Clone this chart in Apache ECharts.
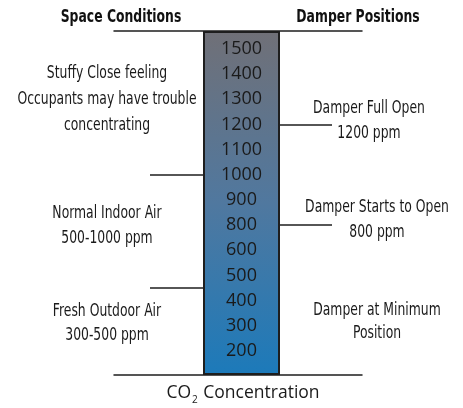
<!DOCTYPE html>
<html><head><meta charset="utf-8">
<script src="https://cdn.jsdelivr.net/npm/echarts@6/dist/echarts.min.js"></script>
<style>html,body{margin:0;padding:0;background:#fff}#c{width:463px;height:408px}</style>
</head><body><div id="c"></div>
<script>
// ---- data ----
const tickLabels = ['200','300','400','500','600','800','900','1000','1100','1200','1300','1400','1500'];
// positions on the scale, in tick-label index units
const spaceBoundaries = [tickLabels.indexOf('1000'), (tickLabels.indexOf('400') + tickLabels.indexOf('500')) / 2];
const damperMarks = [tickLabels.indexOf('1200'), tickLabels.indexOf('800')];
const spaceTitle = 'Space Conditions';
const damperTitle = 'Damper Positions';
const spaceNotes = [
  ['Stuffy Close feeling', 'Occupants may have trouble', 'concentrating'],
  ['Normal Indoor Air', '500-1000 ppm'],
  ['Fresh Outdoor Air', '300-500 ppm']
];
const damperNotes = [
  ['Damper Full Open', '1200 ppm'],
  ['Damper Starts to Open', '800 ppm'],
  ['Damper at Minimum', 'Position']
];
const axisName = ['CO', '2', ' Concentration'];

// ---- chart ----
const FN = "'DejaVu Sans Condensed','Liberation Sans Narrow',sans-serif";
const FR = "'Open Sans','Noto Sans',sans-serif";
const chart = echarts.init(document.getElementById('c'), null, {renderer: 'canvas'});
const hidden = {show: false};
const lineCol = '#1e1e1e';
const SX = 0.81;
function noteText(lines, x, y, lh) {
  return {type: 'text', x: x, y: y, z: 10, scaleX: SX,
    style: {text: lines.join('\n'), fill: '#1a1a1a', font: '17px ' + FN,
      align: 'center', verticalAlign: 'middle', lineHeight: lh}};
}
const option = {
  animation: false,
  grid: [
    {left: 114, width: 248, top: 31, height: 344},
    {left: 203, width: 77, top: 31, height: 344},
    {left: 203, width: 77, top: 49, bottom: 57},
    {left: 150, width: 53, top: 49, bottom: 57},
    {left: 280, width: 52, top: 49, bottom: 57}
  ],
  xAxis: [
    {gridIndex: 0, type: 'value', position: 'top', min: 0, max: 1,
      axisLine: {show: true, onZero: false, lineStyle: {color: lineCol, width: 1.5}},
      axisTick: hidden, axisLabel: hidden, splitLine: hidden},
    {gridIndex: 0, type: 'value', position: 'bottom', min: 0, max: 1,
      axisLine: {show: true, onZero: false, lineStyle: {color: lineCol, width: 1.5}},
      axisTick: hidden, axisLabel: hidden, splitLine: hidden},
    {gridIndex: 1, type: 'category', data: ['CO2'], show: false},
    {gridIndex: 2, type: 'value', show: false},
    {gridIndex: 3, type: 'value', show: false},
    {gridIndex: 4, type: 'value', show: false}
  ],
  yAxis: [
    {gridIndex: 0, type: 'value', min: 0, max: 1, show: false},
    {gridIndex: 1, type: 'value', min: 0, max: 1, show: false},
    {gridIndex: 2, type: 'value', min: 0, max: tickLabels.length - 1, interval: 1, z: 10,
      axisLine: hidden, axisTick: hidden, splitLine: hidden,
      axisLabel: {inside: true, margin: 38.5, align: 'center', verticalAlign: 'middle',
        formatter: v => tickLabels[v] || '', color: '#1a1a1a', fontSize: 18, fontFamily: FR}},
    {gridIndex: 3, type: 'value', min: 0, max: tickLabels.length - 1, show: false},
    {gridIndex: 4, type: 'value', min: 0, max: tickLabels.length - 1, show: false}
  ],
  series: [
    {type: 'bar', xAxisIndex: 2, yAxisIndex: 1, data: [1], barWidth: '100%', silent: true, z: 1,
      itemStyle: {borderColor: lineCol, borderWidth: 2,
        color: {type: 'linear', x: 0, y: 0, x2: 0, y2: 1, colorStops: [
          {offset: 0, color: '#707077'}, {offset: 0.5, color: '#50789f'}, {offset: 1, color: '#1c7aba'}]}}},
    {type: 'line', xAxisIndex: 4, yAxisIndex: 3, data: [],
      markLine: {symbol: 'none', silent: true, label: hidden,
        lineStyle: {color: lineCol, width: 1.5, type: 'solid'},
        data: spaceBoundaries.map(v => ({yAxis: v}))}},
    {type: 'line', xAxisIndex: 5, yAxisIndex: 4, data: [],
      markLine: {symbol: 'none', silent: true, label: hidden,
        lineStyle: {color: lineCol, width: 1.5, type: 'solid'},
        data: damperMarks.map(v => ({yAxis: v}))}}
  ],
  graphic: [
    {type: 'text', x: 121, y: 17.5, scaleX: SX, style: {text: spaceTitle, fill: '#111', font: 'bold 17px ' + FN, align: 'center', verticalAlign: 'middle'}},
    {type: 'text', x: 358, y: 17.5, scaleX: SX, style: {text: damperTitle, fill: '#111', font: 'bold 17px ' + FN, align: 'center', verticalAlign: 'middle'}},
    noteText(spaceNotes[0], 107, 99.5, 26),
    noteText(spaceNotes[1], 107, 226, 25),
    noteText(spaceNotes[2], 107, 323.5, 24),
    noteText(damperNotes[0], 369, 121.5, 25),
    noteText(damperNotes[1], 377, 220.5, 25),
    noteText(damperNotes[2], 377, 322, 23),
    {type: 'text', x: 243, y: 393, style: {
      text: '{a|' + axisName[0] + '}{s|' + axisName[1] + '}{a|' + axisName[2] + '}',
      align: 'center', verticalAlign: 'middle',
      rich: {
        a: {fontSize: 17.5, fontFamily: FR, fill: '#1a1a1a', color: '#1a1a1a', lineHeight: 22},
        s: {fontSize: 10, fontFamily: FR, fill: '#1a1a1a', color: '#1a1a1a', padding: [14, 1, 0, 1], lineHeight: 12}
      }}}
  ]
};
chart.setOption(option);
</script></body></html>
